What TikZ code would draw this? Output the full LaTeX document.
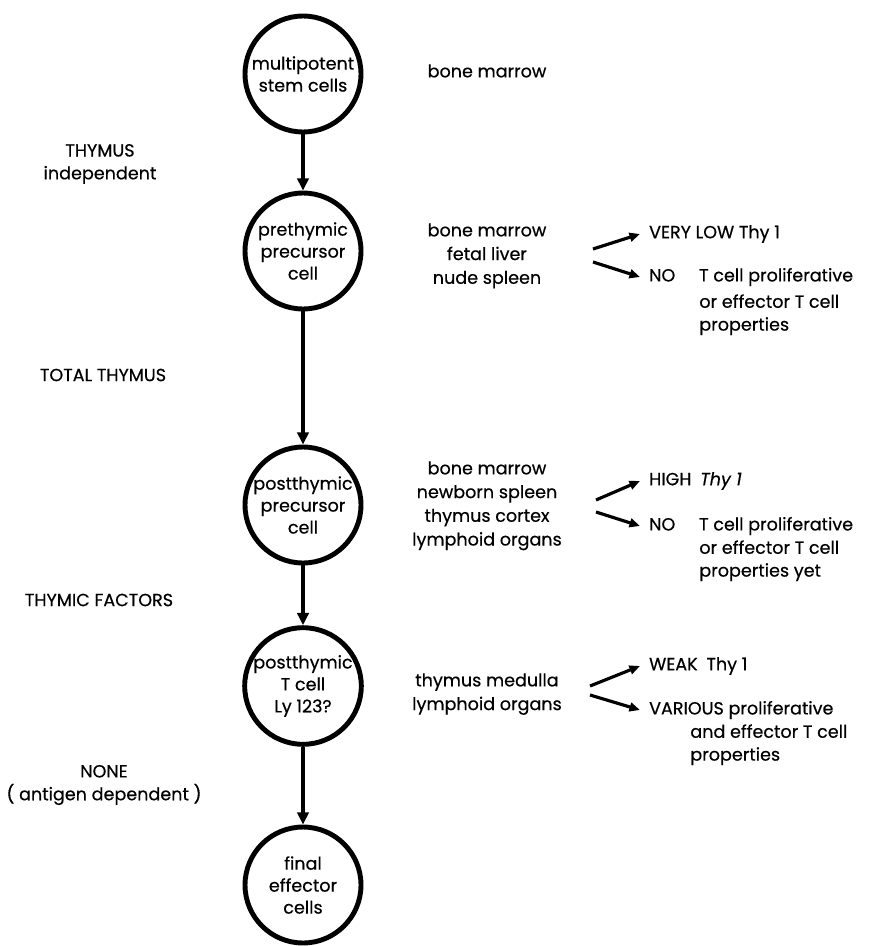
\documentclass[tikz,border=0pt]{standalone}
\usepackage{fontspec}
\setmainfont{Poppins}[FakeBold=0.5]
\usetikzlibrary{arrows.meta,positioning}

\begin{document}
\begin{tikzpicture}[x=0.02cm,y=-0.02cm,
	font=\fontsize{10}{13}\selectfont,
	cell/.style={circle,draw,line width=2.8pt,minimum size=2.32cm,inner sep=0pt,align=center,font=\fontsize{10}{12.5}\selectfont},
	need/.style={align=center,inner sep=0pt},
	site/.style={anchor=north,align=center,inner sep=0pt,font=\fontsize{10}{13.5}\selectfont},
	word/.style={anchor=west,inner xsep=5pt,inner ysep=0pt},
	prop/.style={anchor=north west,align=left,inner sep=0pt},
	flow/.style={-{Triangle[length=7pt,width=6.5pt]},line width=2pt},
	fork/.style={-{Triangle[length=6pt,width=5pt]},line width=1.8pt}]
		\useasboundingbox (0,0) rectangle (874,946);

		% cells down the middle
		\node[cell] (c1) at (303,74) {multipotent\\stem cells};
		\node[cell] (c2) at (303,251) {prethymic\\precursor\\cell};
		\node[cell] (c3) at (303,505) {postthymic\\precursor\\cell};
		\node[cell] (c4) at (303,686) {postthymic\\T cell\\Ly 123?};
		\node[cell] (c5) at (303,885) {final\\effector\\cells};
		\foreach \a/\b in {c1/c2,c2/c3,c3/c4,c4/c5}
			\draw[flow] (\a) -- (\b);

		% what is needed at each step
		\node[need] (l1) at (100,164) {THYMUS\\independent};
		\node[need] (l2) at (103,375) {TOTAL THYMUS};
		\node[need] (l3) at (99,600) {THYMIC FACTORS};
		\node[need] (l4) at (104,785) {NONE\\( antigen dependent )};

		% where the cells are found
		\node[site] (m1) at (487,64) {bone marrow};
		\node[site] (m2) at (487,223) {bone marrow\\fetal liver\\nude spleen};
		\node[site] (m3) at (487,461) {bone marrow\\newborn spleen\\thymus cortex\\lymphoid organs};
		\node[site] (m4) at (487,673) {thymus medulla\\lymphoid organs};

		% markers and properties
		\node[word] (t2) at (640,234) {VERY LOW Thy 1};
		\node[word] (n2) at (640,277) {\makebox[1cm][l]{NO}T cell proliferative};
		\node[prop] (p2) at (699,294) {or effector T cell\\properties};
		\node[word] (t3) at (640,481) {HIGH\enspace\textit{Thy 1}};
		\node[word] (n3) at (640,526) {\makebox[1cm][l]{NO}T cell proliferative};
		\node[prop] (p3) at (699,540) {or effector T cell\\properties yet};
		\node[word] (t4) at (640,666) {WEAK\enspace Thy 1};
		\node[word] (n4) at (640,710) {VARIOUS proliferative};
		\node[prop] (p4) at (690,724) {and effector T cell\\properties};

		%add arrows pointing to the properties
		\coordinate (s2u) at (593,249);
		\coordinate (s2d) at (593,262);
		\coordinate (s3u) at (596,500);
		\coordinate (s3d) at (596,512);
		\coordinate (s4u) at (590,686);
		\coordinate (s4d) at (590,695);
		\foreach \g in {2,3,4} {
			\draw[fork] (s\g u) -- (t\g.west);
			\draw[fork] (s\g d) -- (n\g.west);
		}
	\end{tikzpicture}
\end{document}
